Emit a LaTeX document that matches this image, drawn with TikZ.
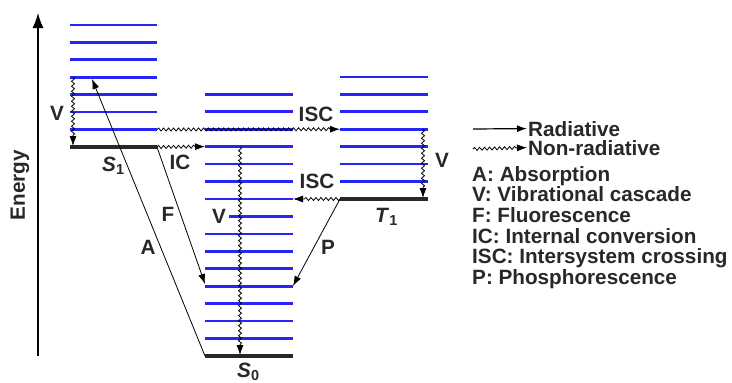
\documentclass[tikz,border=0pt]{standalone}
\usepackage{fontspec}
\setmainfont{Liberation Sans}
\usetikzlibrary{arrows.meta, positioning, decorations.pathmorphing}
\definecolor{levelblue}{RGB}{38,38,245}
\definecolor{inkgray}{RGB}{40,40,40}

\begin{document}
\begin{tikzpicture}[x=1pt, y=-1pt,
      lvl/.style={levelblue, line width=2.7pt},
      gnd/.style={inkgray, line width=3.4pt},
      rad/.style={-{Latex[length=10pt, width=7pt]}, line width=0.8pt},
      nonrad/.style={rad, decorate,
                     decoration={snake, amplitude=1.5pt, segment length=5pt, post length=9pt}},
      lab/.style={font=\fontsize{20.7}{22}\selectfont\bfseries, text=inkgray, inner sep=1pt},
      state/.style={lab, anchor=base west},
      leg/.style={lab, anchor=base west}]

    \useasboundingbox (0,0) rectangle (732,383);

    % energy axis
    \coordinate (axis-lo) at (38,356);
    \coordinate (axis-hi) at (38,13);
    \draw[-{Latex[length=15pt, width=11pt]}, line width=1.2pt] (axis-lo) -- (axis-hi);
    \node[lab, rotate=90] (energy) at (20,185) {Energy};

    % vibrational levels: S1, S0, T1
    \foreach \k in {1,...,7}
      \draw[lvl] (70,147-\k*17.45) -- (157,147-\k*17.45);
    \foreach \k in {1,...,7,9,10,...,15}
      \draw[lvl] (205,356-\k*17.45) -- (293,356-\k*17.45);
    \draw[lvl] (229,356-8*17.45) -- (293,356-8*17.45);
    \foreach \k in {1,...,7}
      \draw[lvl] (340,199-\k*17.45) -- (428,199-\k*17.45);

    % ground levels
    \coordinate (s1-l) at (70,147);  \coordinate (s1-r) at (157,147);
    \coordinate (s0-l) at (205,356); \coordinate (s0-r) at (293,356);
    \coordinate (t1-l) at (340,199); \coordinate (t1-r) at (428,199);
    \draw[gnd] (s1-l) -- (s1-r);
    \draw[gnd] (s0-l) -- (s0-r);
    \draw[gnd] (t1-l) -- (t1-r);

    \node[state] (s1-name) at (101,171) {\textit{S}\textsubscript{1}};
    \node[state] (s0-name) at (236,377) {\textit{S}\textsubscript{0}};
    \node[state] (t1-name) at (374,222) {\textit{T}\textsubscript{1}};

    % end points of the transitions
    \coordinate (s1-v4)  at (73,147-4*17.45);
    \coordinate (s1-v0)  at (73,146);
    \coordinate (s1-v1)  at (157,147-17.45);
    \coordinate (a-top)  at (92,79);
    \coordinate (s0-ic)  at (205,356-12*17.45);
    \coordinate (s0-f)   at (205,284);
    \coordinate (s0-p)   at (293,286);
    \coordinate (s0-isc) at (293,199);
    \coordinate (s0-vtop) at (240,356-12*17.45);
    \coordinate (s0-vbot) at (240,355);
    \coordinate (t1-isc) at (340,199-4*17.45);
    \coordinate (t1-vtop) at (423,199-4*17.45);
    \coordinate (t1-vbot) at (423,198);

    % radiative transitions
    \draw[rad] (s0-l) -- (a-top);
    \draw[rad] (s1-r) -- (s0-f);
    \draw[rad] (t1-l) -- (s0-p);

    % non-radiative transitions
    \draw[nonrad] (s1-v4) -- (s1-v0);
    \draw[nonrad] (s1-r) -- (s0-ic);
    \draw[nonrad] (s1-v1) -- (t1-isc);
    \draw[nonrad] (s0-vtop) -- (s0-vbot);
    \draw[nonrad] (t1-vtop) -- (t1-vbot);
    \draw[nonrad] (t1-l) -- (s0-isc);

    % transition labels
    \node[lab] (lab-v1)   at (57,113)  {V};
    \node[lab] (lab-a)    at (148,247) {A};
    \node[lab] (lab-f)    at (168,214) {F};
    \node[lab] (lab-ic)   at (180,162) {IC};
    \node[lab] (lab-isc1) at (316,114) {ISC};
    \node[lab] (lab-v2)   at (219,216) {V};
    \node[lab] (lab-isc2) at (317,181) {ISC};
    \node[lab] (lab-p)    at (328,247) {P};
    \node[lab] (lab-v3)   at (442,160) {V};

    % legend
    \node[leg] (leg-rad)    at (527,136) {Radiative};
    \node[leg] (leg-nonrad) at (527,155) {Non-radiative};
    \coordinate (leg-rad-start)    at (473,129);
    \coordinate (leg-nonrad-start) at (473,149);
    \draw[rad, line width=1.2pt] (leg-rad-start) -- (leg-rad.west);
    \draw[nonrad] (leg-nonrad-start) -- (leg-nonrad.west);

    \node[leg] (leg-a)   at (471,181) {A: Absorption};
    \node[leg] (leg-v)   at (471,201) {V: Vibrational cascade};
    \node[leg] (leg-f)   at (471,222) {F: Fluorescence};
    \node[leg] (leg-ic)  at (471,243) {IC: Internal conversion};
    \node[leg] (leg-isc) at (471,263) {ISC: Intersystem crossing};
    \node[leg] (leg-p)   at (471,284) {P: Phosphorescence};

\end{tikzpicture}
\end{document}
